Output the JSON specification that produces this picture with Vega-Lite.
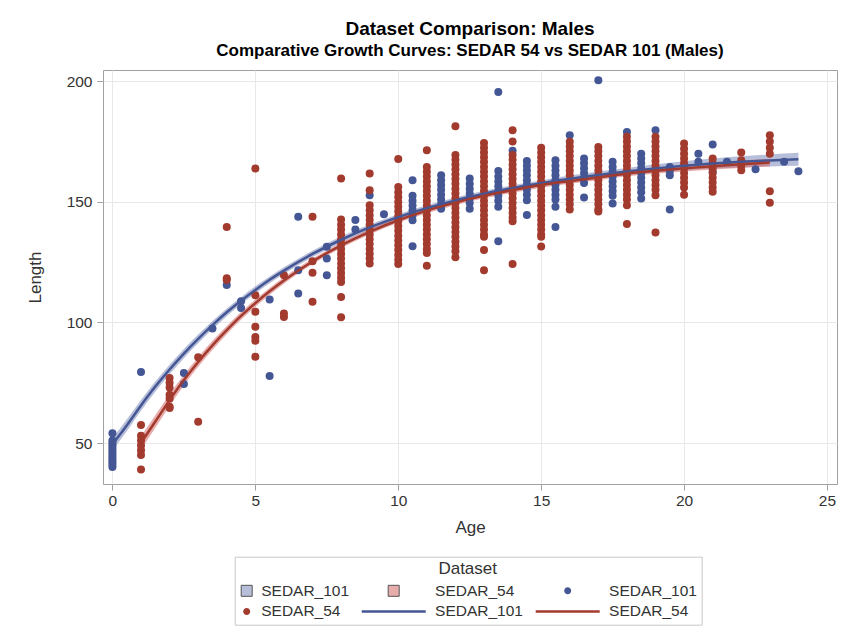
{
"$schema": "https://vega.github.io/schema/vega-lite/v6.json",
"width": 734, "height": 414,
"autosize": "none",
"padding": {"left": 103, "top": 70, "right": 6, "bottom": 151},
"background": "white",
"config": {
  "font": "Liberation Sans",
  "view": {"stroke": "#a0a0a0", "strokeWidth": 1},
  "axis": {"gridColor": "#e8e8e8", "gridWidth": 1, "domain": false, "tickColor": "#a0a0a0", "tickSize": 6,
           "labelFontSize": 15.5, "labelColor": "#333333", "titleFontSize": 17, "titleFontWeight": "normal", "titleColor": "#333333",
           "labelFont": "Liberation Sans", "titleFont": "Liberation Sans"}
},
"title": {"text": "Dataset Comparison: Males", "subtitle": "Comparative Growth Curves: SEDAR 54 vs SEDAR 101 (Males)",
  "fontSize": 19, "fontWeight": "bold", "subtitleFontSize": 17, "subtitleFontWeight": "bold", "color": "#000000", "subtitleColor": "#000000",
  "anchor": "middle", "frame": "group", "offset": 11, "subtitlePadding": 4, "font": "Liberation Sans", "subtitleFont": "Liberation Sans"},
"datasets": {
  "fit": [
    {"Dataset":"SEDAR_101","Age":0,"Length":49.5,"Lower":47,"Upper":52},
    {"Dataset":"SEDAR_101","Age":0.5,"Length":57.3,"Lower":54.9,"Upper":59.7},
    {"Dataset":"SEDAR_101","Age":1,"Length":65.6,"Lower":63.4,"Upper":67.8},
    {"Dataset":"SEDAR_101","Age":1.5,"Length":73.4,"Lower":71.3,"Upper":75.5},
    {"Dataset":"SEDAR_101","Age":2,"Length":80.5,"Lower":78.5,"Upper":82.5},
    {"Dataset":"SEDAR_101","Age":2.5,"Length":87.1,"Lower":85.2,"Upper":89},
    {"Dataset":"SEDAR_101","Age":3,"Length":93.2,"Lower":91.4,"Upper":95},
    {"Dataset":"SEDAR_101","Age":3.5,"Length":98.9,"Lower":97.2,"Upper":100.6},
    {"Dataset":"SEDAR_101","Age":4,"Length":104.2,"Lower":102.6,"Upper":105.8},
    {"Dataset":"SEDAR_101","Age":4.5,"Length":109,"Lower":107.5,"Upper":110.5},
    {"Dataset":"SEDAR_101","Age":5,"Length":113.5,"Lower":112,"Upper":115},
    {"Dataset":"SEDAR_101","Age":5.5,"Length":117.7,"Lower":116.3,"Upper":119.1},
    {"Dataset":"SEDAR_101","Age":6,"Length":121.5,"Lower":120.1,"Upper":122.9},
    {"Dataset":"SEDAR_101","Age":7,"Length":128.4,"Lower":127.1,"Upper":129.7},
    {"Dataset":"SEDAR_101","Age":8,"Length":134.3,"Lower":133,"Upper":135.6},
    {"Dataset":"SEDAR_101","Age":9,"Length":139.4,"Lower":138.2,"Upper":140.6},
    {"Dataset":"SEDAR_101","Age":10,"Length":143.7,"Lower":142.5,"Upper":144.9},
    {"Dataset":"SEDAR_101","Age":11,"Length":147.4,"Lower":146.2,"Upper":148.6},
    {"Dataset":"SEDAR_101","Age":12,"Length":150.6,"Lower":149.4,"Upper":151.8},
    {"Dataset":"SEDAR_101","Age":13,"Length":153.4,"Lower":152.2,"Upper":154.6},
    {"Dataset":"SEDAR_101","Age":14,"Length":155.7,"Lower":154.5,"Upper":156.9},
    {"Dataset":"SEDAR_101","Age":15,"Length":157.7,"Lower":156.5,"Upper":158.9},
    {"Dataset":"SEDAR_101","Age":16,"Length":159.6,"Lower":158.3,"Upper":160.9},
    {"Dataset":"SEDAR_101","Age":17,"Length":161.2,"Lower":159.8,"Upper":162.6},
    {"Dataset":"SEDAR_101","Age":18,"Length":162.6,"Lower":161.1,"Upper":164.1},
    {"Dataset":"SEDAR_101","Age":19,"Length":163.9,"Lower":162.2,"Upper":165.6},
    {"Dataset":"SEDAR_101","Age":20,"Length":165,"Lower":163.1,"Upper":166.9},
    {"Dataset":"SEDAR_101","Age":21,"Length":165.9,"Lower":163.8,"Upper":168},
    {"Dataset":"SEDAR_101","Age":22,"Length":166.6,"Lower":164.3,"Upper":168.9},
    {"Dataset":"SEDAR_101","Age":23,"Length":167.2,"Lower":164.7,"Upper":169.7},
    {"Dataset":"SEDAR_101","Age":24,"Length":167.7,"Lower":165,"Upper":170.4},
    {"Dataset":"SEDAR_54","Age":1,"Length":50,"Lower":47.2,"Upper":52.8},
    {"Dataset":"SEDAR_54","Age":1.5,"Length":58.9,"Lower":56.3,"Upper":61.5},
    {"Dataset":"SEDAR_54","Age":2,"Length":67.8,"Lower":65.4,"Upper":70.2},
    {"Dataset":"SEDAR_54","Age":2.5,"Length":76.1,"Lower":73.9,"Upper":78.3},
    {"Dataset":"SEDAR_54","Age":3,"Length":83.6,"Lower":81.6,"Upper":85.6},
    {"Dataset":"SEDAR_54","Age":3.5,"Length":90.5,"Lower":88.6,"Upper":92.4},
    {"Dataset":"SEDAR_54","Age":4,"Length":96.8,"Lower":95.1,"Upper":98.5},
    {"Dataset":"SEDAR_54","Age":4.5,"Length":102.7,"Lower":101.1,"Upper":104.3},
    {"Dataset":"SEDAR_54","Age":5,"Length":108,"Lower":106.5,"Upper":109.5},
    {"Dataset":"SEDAR_54","Age":5.5,"Length":112.9,"Lower":111.5,"Upper":114.3},
    {"Dataset":"SEDAR_54","Age":6,"Length":117.4,"Lower":116.1,"Upper":118.7},
    {"Dataset":"SEDAR_54","Age":7,"Length":125.3,"Lower":124.1,"Upper":126.5},
    {"Dataset":"SEDAR_54","Age":8,"Length":132,"Lower":130.9,"Upper":133.1},
    {"Dataset":"SEDAR_54","Age":9,"Length":137.6,"Lower":136.5,"Upper":138.7},
    {"Dataset":"SEDAR_54","Age":10,"Length":142.4,"Lower":141.3,"Upper":143.5},
    {"Dataset":"SEDAR_54","Age":11,"Length":146.4,"Lower":145.3,"Upper":147.5},
    {"Dataset":"SEDAR_54","Age":12,"Length":149.7,"Lower":148.6,"Upper":150.8},
    {"Dataset":"SEDAR_54","Age":13,"Length":152.6,"Lower":151.5,"Upper":153.7},
    {"Dataset":"SEDAR_54","Age":14,"Length":154.9,"Lower":153.8,"Upper":156},
    {"Dataset":"SEDAR_54","Age":15,"Length":157,"Lower":155.9,"Upper":158.1},
    {"Dataset":"SEDAR_54","Age":16,"Length":158.6,"Lower":157.5,"Upper":159.7},
    {"Dataset":"SEDAR_54","Age":17,"Length":160.1,"Lower":159,"Upper":161.2},
    {"Dataset":"SEDAR_54","Age":18,"Length":161.8,"Lower":160.6,"Upper":163},
    {"Dataset":"SEDAR_54","Age":19,"Length":162.9,"Lower":161.7,"Upper":164.1},
    {"Dataset":"SEDAR_54","Age":20,"Length":163.9,"Lower":162.6,"Upper":165.2},
    {"Dataset":"SEDAR_54","Age":21,"Length":164.8,"Lower":163.4,"Upper":166.2},
    {"Dataset":"SEDAR_54","Age":22,"Length":165.6,"Lower":164.1,"Upper":167.1},
    {"Dataset":"SEDAR_54","Age":23,"Length":166.3,"Lower":164.7,"Upper":167.9}
  ],
  "pts": [
    {"Dataset":"SEDAR_101","Age":0,"Length":54},{"Dataset":"SEDAR_101","Age":0,"Length":51},{"Dataset":"SEDAR_101","Age":0,"Length":50},{"Dataset":"SEDAR_101","Age":0,"Length":49},{"Dataset":"SEDAR_101","Age":0,"Length":48},{"Dataset":"SEDAR_101","Age":0,"Length":47},{"Dataset":"SEDAR_101","Age":0,"Length":46},{"Dataset":"SEDAR_101","Age":0,"Length":45},{"Dataset":"SEDAR_101","Age":0,"Length":44},{"Dataset":"SEDAR_101","Age":0,"Length":43},{"Dataset":"SEDAR_101","Age":0,"Length":42},{"Dataset":"SEDAR_101","Age":0,"Length":41},{"Dataset":"SEDAR_101","Age":0,"Length":40},
    {"Dataset":"SEDAR_101","Age":1,"Length":79.5},
    {"Dataset":"SEDAR_101","Age":2.5,"Length":79},{"Dataset":"SEDAR_101","Age":2.5,"Length":74.5},
    {"Dataset":"SEDAR_101","Age":3.5,"Length":97.5},
    {"Dataset":"SEDAR_101","Age":4,"Length":115.5},
    {"Dataset":"SEDAR_101","Age":4.5,"Length":108.8},{"Dataset":"SEDAR_101","Age":4.5,"Length":106},
    {"Dataset":"SEDAR_101","Age":5.5,"Length":109.5},{"Dataset":"SEDAR_101","Age":5.5,"Length":77.8},
    {"Dataset":"SEDAR_101","Age":6.5,"Length":143.8},{"Dataset":"SEDAR_101","Age":6.5,"Length":121.7},{"Dataset":"SEDAR_101","Age":6.5,"Length":112},
    {"Dataset":"SEDAR_101","Age":7.5,"Length":131.4},{"Dataset":"SEDAR_101","Age":7.5,"Length":126.5},{"Dataset":"SEDAR_101","Age":7.5,"Length":119.6},
    {"Dataset":"SEDAR_101","Age":8.5,"Length":142.5},{"Dataset":"SEDAR_101","Age":8.5,"Length":138.5},
    {"Dataset":"SEDAR_101","Age":9,"Length":152.8},
    {"Dataset":"SEDAR_101","Age":9.5,"Length":144.9},
    {"Dataset":"SEDAR_101","Age":10.5,"Length":159},{"Dataset":"SEDAR_101","Age":10.5,"Length":152.5},{"Dataset":"SEDAR_101","Age":10.5,"Length":150.5},{"Dataset":"SEDAR_101","Age":10.5,"Length":148.5},{"Dataset":"SEDAR_101","Age":10.5,"Length":146.5},{"Dataset":"SEDAR_101","Age":10.5,"Length":144.5},{"Dataset":"SEDAR_101","Age":10.5,"Length":142.4},{"Dataset":"SEDAR_101","Age":10.5,"Length":131.6},
    {"Dataset":"SEDAR_101","Age":11.5,"Length":161},{"Dataset":"SEDAR_101","Age":11.5,"Length":159},{"Dataset":"SEDAR_101","Age":11.5,"Length":157},{"Dataset":"SEDAR_101","Age":11.5,"Length":155},{"Dataset":"SEDAR_101","Age":11.5,"Length":153},{"Dataset":"SEDAR_101","Age":11.5,"Length":151},{"Dataset":"SEDAR_101","Age":11.5,"Length":149},{"Dataset":"SEDAR_101","Age":11.5,"Length":147.2},
    {"Dataset":"SEDAR_101","Age":12.5,"Length":159.7},{"Dataset":"SEDAR_101","Age":12.5,"Length":157.5},{"Dataset":"SEDAR_101","Age":12.5,"Length":155.5},{"Dataset":"SEDAR_101","Age":12.5,"Length":153.5},{"Dataset":"SEDAR_101","Age":12.5,"Length":151.5},{"Dataset":"SEDAR_101","Age":12.5,"Length":149.5},{"Dataset":"SEDAR_101","Age":12.5,"Length":147.2},
    {"Dataset":"SEDAR_101","Age":13.5,"Length":195.6},{"Dataset":"SEDAR_101","Age":13.5,"Length":162.8},{"Dataset":"SEDAR_101","Age":13.5,"Length":160.5},{"Dataset":"SEDAR_101","Age":13.5,"Length":158.5},{"Dataset":"SEDAR_101","Age":13.5,"Length":156.5},{"Dataset":"SEDAR_101","Age":13.5,"Length":154.5},{"Dataset":"SEDAR_101","Age":13.5,"Length":152.5},{"Dataset":"SEDAR_101","Age":13.5,"Length":150.5},{"Dataset":"SEDAR_101","Age":13.5,"Length":148},{"Dataset":"SEDAR_101","Age":13.5,"Length":133.7},
    {"Dataset":"SEDAR_101","Age":14,"Length":171.2},
    {"Dataset":"SEDAR_101","Age":14.5,"Length":167},{"Dataset":"SEDAR_101","Age":14.5,"Length":165},{"Dataset":"SEDAR_101","Age":14.5,"Length":163},{"Dataset":"SEDAR_101","Age":14.5,"Length":161},{"Dataset":"SEDAR_101","Age":14.5,"Length":159},{"Dataset":"SEDAR_101","Age":14.5,"Length":157},{"Dataset":"SEDAR_101","Age":14.5,"Length":155},{"Dataset":"SEDAR_101","Age":14.5,"Length":153},{"Dataset":"SEDAR_101","Age":14.5,"Length":150.7},{"Dataset":"SEDAR_101","Age":14.5,"Length":144.6},
    {"Dataset":"SEDAR_101","Age":15.5,"Length":167.3},{"Dataset":"SEDAR_101","Age":15.5,"Length":165},{"Dataset":"SEDAR_101","Age":15.5,"Length":163},{"Dataset":"SEDAR_101","Age":15.5,"Length":161},{"Dataset":"SEDAR_101","Age":15.5,"Length":159},{"Dataset":"SEDAR_101","Age":15.5,"Length":157},{"Dataset":"SEDAR_101","Age":15.5,"Length":155},{"Dataset":"SEDAR_101","Age":15.5,"Length":153},{"Dataset":"SEDAR_101","Age":15.5,"Length":151},{"Dataset":"SEDAR_101","Age":15.5,"Length":148},{"Dataset":"SEDAR_101","Age":15.5,"Length":139.6},
    {"Dataset":"SEDAR_101","Age":16,"Length":177.6},
    {"Dataset":"SEDAR_101","Age":16.5,"Length":168},{"Dataset":"SEDAR_101","Age":16.5,"Length":166},{"Dataset":"SEDAR_101","Age":16.5,"Length":164},{"Dataset":"SEDAR_101","Age":16.5,"Length":162},{"Dataset":"SEDAR_101","Age":16.5,"Length":160},{"Dataset":"SEDAR_101","Age":16.5,"Length":157.8},{"Dataset":"SEDAR_101","Age":16.5,"Length":151.8},
    {"Dataset":"SEDAR_101","Age":17,"Length":200.4},
    {"Dataset":"SEDAR_101","Age":17.5,"Length":166.6},{"Dataset":"SEDAR_101","Age":17.5,"Length":164.5},{"Dataset":"SEDAR_101","Age":17.5,"Length":162.5},{"Dataset":"SEDAR_101","Age":17.5,"Length":160.5},{"Dataset":"SEDAR_101","Age":17.5,"Length":158.5},{"Dataset":"SEDAR_101","Age":17.5,"Length":156.5},{"Dataset":"SEDAR_101","Age":17.5,"Length":154.5},{"Dataset":"SEDAR_101","Age":17.5,"Length":152.5},{"Dataset":"SEDAR_101","Age":17.5,"Length":149.3},
    {"Dataset":"SEDAR_101","Age":18,"Length":179},
    {"Dataset":"SEDAR_101","Age":18.5,"Length":170},{"Dataset":"SEDAR_101","Age":18.5,"Length":168},{"Dataset":"SEDAR_101","Age":18.5,"Length":166},{"Dataset":"SEDAR_101","Age":18.5,"Length":164},{"Dataset":"SEDAR_101","Age":18.5,"Length":162},{"Dataset":"SEDAR_101","Age":18.5,"Length":160},{"Dataset":"SEDAR_101","Age":18.5,"Length":158},{"Dataset":"SEDAR_101","Age":18.5,"Length":156},{"Dataset":"SEDAR_101","Age":18.5,"Length":154},{"Dataset":"SEDAR_101","Age":18.5,"Length":151.4},
    {"Dataset":"SEDAR_101","Age":19,"Length":179.7},
    {"Dataset":"SEDAR_101","Age":19.5,"Length":164.5},{"Dataset":"SEDAR_101","Age":19.5,"Length":162.8},{"Dataset":"SEDAR_101","Age":19.5,"Length":161},{"Dataset":"SEDAR_101","Age":19.5,"Length":146.8},
    {"Dataset":"SEDAR_101","Age":20.5,"Length":170},{"Dataset":"SEDAR_101","Age":20.5,"Length":166.6},
    {"Dataset":"SEDAR_101","Age":21,"Length":173.8},{"Dataset":"SEDAR_101","Age":21,"Length":162.5},
    {"Dataset":"SEDAR_101","Age":21.5,"Length":166.6},
    {"Dataset":"SEDAR_101","Age":22.5,"Length":163.5},
    {"Dataset":"SEDAR_101","Age":23.5,"Length":166.6},
    {"Dataset":"SEDAR_101","Age":24,"Length":162.7},
    {"Dataset":"SEDAR_54","Age":1,"Length":57.5},{"Dataset":"SEDAR_54","Age":1,"Length":53},{"Dataset":"SEDAR_54","Age":1,"Length":51},{"Dataset":"SEDAR_54","Age":1,"Length":49},{"Dataset":"SEDAR_54","Age":1,"Length":47},{"Dataset":"SEDAR_54","Age":1,"Length":45},{"Dataset":"SEDAR_54","Age":1,"Length":39},
    {"Dataset":"SEDAR_54","Age":2,"Length":77},{"Dataset":"SEDAR_54","Age":2,"Length":75},{"Dataset":"SEDAR_54","Age":2,"Length":73},{"Dataset":"SEDAR_54","Age":2,"Length":70},{"Dataset":"SEDAR_54","Age":2,"Length":68.5},{"Dataset":"SEDAR_54","Age":2,"Length":65},{"Dataset":"SEDAR_54","Age":2,"Length":64.5},
    {"Dataset":"SEDAR_54","Age":3,"Length":85.6},{"Dataset":"SEDAR_54","Age":3,"Length":58.8},
    {"Dataset":"SEDAR_54","Age":4,"Length":139.6},{"Dataset":"SEDAR_54","Age":4,"Length":118.3},{"Dataset":"SEDAR_54","Age":4,"Length":117.6},
    {"Dataset":"SEDAR_54","Age":5,"Length":163.8},{"Dataset":"SEDAR_54","Age":5,"Length":111.3},{"Dataset":"SEDAR_54","Age":5,"Length":104.4},{"Dataset":"SEDAR_54","Age":5,"Length":98.2},{"Dataset":"SEDAR_54","Age":5,"Length":94},{"Dataset":"SEDAR_54","Age":5,"Length":92.4},{"Dataset":"SEDAR_54","Age":5,"Length":85.8},
    {"Dataset":"SEDAR_54","Age":6,"Length":119.6},{"Dataset":"SEDAR_54","Age":6,"Length":103.7},{"Dataset":"SEDAR_54","Age":6,"Length":102.3},
    {"Dataset":"SEDAR_54","Age":7,"Length":143.8},{"Dataset":"SEDAR_54","Age":7,"Length":125.4},{"Dataset":"SEDAR_54","Age":7,"Length":120.6},{"Dataset":"SEDAR_54","Age":7,"Length":108.6},
    {"Dataset":"SEDAR_54","Age":8,"Length":159.7},{"Dataset":"SEDAR_54","Age":8,"Length":142.7},{"Dataset":"SEDAR_54","Age":8,"Length":140.5},{"Dataset":"SEDAR_54","Age":8,"Length":138.5},{"Dataset":"SEDAR_54","Age":8,"Length":136.5},{"Dataset":"SEDAR_54","Age":8,"Length":134.5},{"Dataset":"SEDAR_54","Age":8,"Length":132.5},{"Dataset":"SEDAR_54","Age":8,"Length":130.5},{"Dataset":"SEDAR_54","Age":8,"Length":128.5},{"Dataset":"SEDAR_54","Age":8,"Length":126.5},{"Dataset":"SEDAR_54","Age":8,"Length":124.5},{"Dataset":"SEDAR_54","Age":8,"Length":122.5},{"Dataset":"SEDAR_54","Age":8,"Length":120.5},{"Dataset":"SEDAR_54","Age":8,"Length":118.5},{"Dataset":"SEDAR_54","Age":8,"Length":116.8},{"Dataset":"SEDAR_54","Age":8,"Length":110.6},{"Dataset":"SEDAR_54","Age":8,"Length":102.2},
    {"Dataset":"SEDAR_54","Age":9,"Length":161.8},{"Dataset":"SEDAR_54","Age":9,"Length":154.8},{"Dataset":"SEDAR_54","Age":9,"Length":148.6},{"Dataset":"SEDAR_54","Age":9,"Length":146.5},{"Dataset":"SEDAR_54","Age":9,"Length":144.5},{"Dataset":"SEDAR_54","Age":9,"Length":142.5},{"Dataset":"SEDAR_54","Age":9,"Length":140.5},{"Dataset":"SEDAR_54","Age":9,"Length":138.5},{"Dataset":"SEDAR_54","Age":9,"Length":136.5},{"Dataset":"SEDAR_54","Age":9,"Length":134.5},{"Dataset":"SEDAR_54","Age":9,"Length":132.5},{"Dataset":"SEDAR_54","Age":9,"Length":130.5},{"Dataset":"SEDAR_54","Age":9,"Length":128.5},{"Dataset":"SEDAR_54","Age":9,"Length":126.5},{"Dataset":"SEDAR_54","Age":9,"Length":124.5},
    {"Dataset":"SEDAR_54","Age":10,"Length":167.8},{"Dataset":"SEDAR_54","Age":10,"Length":156.2},{"Dataset":"SEDAR_54","Age":10,"Length":154},{"Dataset":"SEDAR_54","Age":10,"Length":152},{"Dataset":"SEDAR_54","Age":10,"Length":150},{"Dataset":"SEDAR_54","Age":10,"Length":148},{"Dataset":"SEDAR_54","Age":10,"Length":146},{"Dataset":"SEDAR_54","Age":10,"Length":144},{"Dataset":"SEDAR_54","Age":10,"Length":142},{"Dataset":"SEDAR_54","Age":10,"Length":140},{"Dataset":"SEDAR_54","Age":10,"Length":138},{"Dataset":"SEDAR_54","Age":10,"Length":136},{"Dataset":"SEDAR_54","Age":10,"Length":134},{"Dataset":"SEDAR_54","Age":10,"Length":132},{"Dataset":"SEDAR_54","Age":10,"Length":130},{"Dataset":"SEDAR_54","Age":10,"Length":128},{"Dataset":"SEDAR_54","Age":10,"Length":126},{"Dataset":"SEDAR_54","Age":10,"Length":124.2},
    {"Dataset":"SEDAR_54","Age":11,"Length":171.4},{"Dataset":"SEDAR_54","Age":11,"Length":164.5},{"Dataset":"SEDAR_54","Age":11,"Length":162.5},{"Dataset":"SEDAR_54","Age":11,"Length":160.5},{"Dataset":"SEDAR_54","Age":11,"Length":158.5},{"Dataset":"SEDAR_54","Age":11,"Length":156.5},{"Dataset":"SEDAR_54","Age":11,"Length":154.5},{"Dataset":"SEDAR_54","Age":11,"Length":152.5},{"Dataset":"SEDAR_54","Age":11,"Length":150.5},{"Dataset":"SEDAR_54","Age":11,"Length":148.5},{"Dataset":"SEDAR_54","Age":11,"Length":146.5},{"Dataset":"SEDAR_54","Age":11,"Length":144.5},{"Dataset":"SEDAR_54","Age":11,"Length":142.5},{"Dataset":"SEDAR_54","Age":11,"Length":140.5},{"Dataset":"SEDAR_54","Age":11,"Length":138.5},{"Dataset":"SEDAR_54","Age":11,"Length":136.5},{"Dataset":"SEDAR_54","Age":11,"Length":134.5},{"Dataset":"SEDAR_54","Age":11,"Length":132.5},{"Dataset":"SEDAR_54","Age":11,"Length":130.5},{"Dataset":"SEDAR_54","Age":11,"Length":128.8},{"Dataset":"SEDAR_54","Age":11,"Length":123.5},
    {"Dataset":"SEDAR_54","Age":12,"Length":181.4},{"Dataset":"SEDAR_54","Age":12,"Length":169.4},{"Dataset":"SEDAR_54","Age":12,"Length":167.5},{"Dataset":"SEDAR_54","Age":12,"Length":165.5},{"Dataset":"SEDAR_54","Age":12,"Length":163.5},{"Dataset":"SEDAR_54","Age":12,"Length":161.5},{"Dataset":"SEDAR_54","Age":12,"Length":159.5},{"Dataset":"SEDAR_54","Age":12,"Length":157.5},{"Dataset":"SEDAR_54","Age":12,"Length":155.5},{"Dataset":"SEDAR_54","Age":12,"Length":153.5},{"Dataset":"SEDAR_54","Age":12,"Length":151.5},{"Dataset":"SEDAR_54","Age":12,"Length":149.5},{"Dataset":"SEDAR_54","Age":12,"Length":147.5},{"Dataset":"SEDAR_54","Age":12,"Length":145.5},{"Dataset":"SEDAR_54","Age":12,"Length":143.5},{"Dataset":"SEDAR_54","Age":12,"Length":141.5},{"Dataset":"SEDAR_54","Age":12,"Length":139.5},{"Dataset":"SEDAR_54","Age":12,"Length":137.5},{"Dataset":"SEDAR_54","Age":12,"Length":135.5},{"Dataset":"SEDAR_54","Age":12,"Length":133.5},{"Dataset":"SEDAR_54","Age":12,"Length":131.5},{"Dataset":"SEDAR_54","Age":12,"Length":129.5},{"Dataset":"SEDAR_54","Age":12,"Length":127},
    {"Dataset":"SEDAR_54","Age":13,"Length":174.4},{"Dataset":"SEDAR_54","Age":13,"Length":172.5},{"Dataset":"SEDAR_54","Age":13,"Length":170.5},{"Dataset":"SEDAR_54","Age":13,"Length":168.5},{"Dataset":"SEDAR_54","Age":13,"Length":166.5},{"Dataset":"SEDAR_54","Age":13,"Length":164.5},{"Dataset":"SEDAR_54","Age":13,"Length":162.5},{"Dataset":"SEDAR_54","Age":13,"Length":160.5},{"Dataset":"SEDAR_54","Age":13,"Length":158.5},{"Dataset":"SEDAR_54","Age":13,"Length":156.5},{"Dataset":"SEDAR_54","Age":13,"Length":154.5},{"Dataset":"SEDAR_54","Age":13,"Length":152.5},{"Dataset":"SEDAR_54","Age":13,"Length":150.5},{"Dataset":"SEDAR_54","Age":13,"Length":148.5},{"Dataset":"SEDAR_54","Age":13,"Length":146.5},{"Dataset":"SEDAR_54","Age":13,"Length":144.5},{"Dataset":"SEDAR_54","Age":13,"Length":142.5},{"Dataset":"SEDAR_54","Age":13,"Length":140.5},{"Dataset":"SEDAR_54","Age":13,"Length":138.5},{"Dataset":"SEDAR_54","Age":13,"Length":136.5},{"Dataset":"SEDAR_54","Age":13,"Length":135.5},{"Dataset":"SEDAR_54","Age":13,"Length":130},{"Dataset":"SEDAR_54","Age":13,"Length":121.6},
    {"Dataset":"SEDAR_54","Age":14,"Length":179.7},{"Dataset":"SEDAR_54","Age":14,"Length":175},{"Dataset":"SEDAR_54","Age":14,"Length":169.4},{"Dataset":"SEDAR_54","Age":14,"Length":167.5},{"Dataset":"SEDAR_54","Age":14,"Length":165.5},{"Dataset":"SEDAR_54","Age":14,"Length":163.5},{"Dataset":"SEDAR_54","Age":14,"Length":161.5},{"Dataset":"SEDAR_54","Age":14,"Length":159.5},{"Dataset":"SEDAR_54","Age":14,"Length":157.5},{"Dataset":"SEDAR_54","Age":14,"Length":155.5},{"Dataset":"SEDAR_54","Age":14,"Length":153.5},{"Dataset":"SEDAR_54","Age":14,"Length":151.5},{"Dataset":"SEDAR_54","Age":14,"Length":149.5},{"Dataset":"SEDAR_54","Age":14,"Length":147.5},{"Dataset":"SEDAR_54","Age":14,"Length":145.5},{"Dataset":"SEDAR_54","Age":14,"Length":143.5},{"Dataset":"SEDAR_54","Age":14,"Length":142},{"Dataset":"SEDAR_54","Age":14,"Length":124.2},
    {"Dataset":"SEDAR_54","Age":15,"Length":172.5},{"Dataset":"SEDAR_54","Age":15,"Length":170.5},{"Dataset":"SEDAR_54","Age":15,"Length":168.5},{"Dataset":"SEDAR_54","Age":15,"Length":166.5},{"Dataset":"SEDAR_54","Age":15,"Length":164.5},{"Dataset":"SEDAR_54","Age":15,"Length":162.5},{"Dataset":"SEDAR_54","Age":15,"Length":160.5},{"Dataset":"SEDAR_54","Age":15,"Length":158.5},{"Dataset":"SEDAR_54","Age":15,"Length":156.5},{"Dataset":"SEDAR_54","Age":15,"Length":154.5},{"Dataset":"SEDAR_54","Age":15,"Length":152.5},{"Dataset":"SEDAR_54","Age":15,"Length":150.5},{"Dataset":"SEDAR_54","Age":15,"Length":148.5},{"Dataset":"SEDAR_54","Age":15,"Length":146.5},{"Dataset":"SEDAR_54","Age":15,"Length":144.5},{"Dataset":"SEDAR_54","Age":15,"Length":142.5},{"Dataset":"SEDAR_54","Age":15,"Length":140.5},{"Dataset":"SEDAR_54","Age":15,"Length":138.5},{"Dataset":"SEDAR_54","Age":15,"Length":136.5},{"Dataset":"SEDAR_54","Age":15,"Length":135.5},{"Dataset":"SEDAR_54","Age":15,"Length":131.5},
    {"Dataset":"SEDAR_54","Age":16,"Length":174.9},{"Dataset":"SEDAR_54","Age":16,"Length":173},{"Dataset":"SEDAR_54","Age":16,"Length":171},{"Dataset":"SEDAR_54","Age":16,"Length":169},{"Dataset":"SEDAR_54","Age":16,"Length":167},{"Dataset":"SEDAR_54","Age":16,"Length":165},{"Dataset":"SEDAR_54","Age":16,"Length":163},{"Dataset":"SEDAR_54","Age":16,"Length":161},{"Dataset":"SEDAR_54","Age":16,"Length":159},{"Dataset":"SEDAR_54","Age":16,"Length":157},{"Dataset":"SEDAR_54","Age":16,"Length":155},{"Dataset":"SEDAR_54","Age":16,"Length":153},{"Dataset":"SEDAR_54","Age":16,"Length":151},{"Dataset":"SEDAR_54","Age":16,"Length":149},{"Dataset":"SEDAR_54","Age":16,"Length":146.8},
    {"Dataset":"SEDAR_54","Age":17,"Length":172.8},{"Dataset":"SEDAR_54","Age":17,"Length":171},{"Dataset":"SEDAR_54","Age":17,"Length":169},{"Dataset":"SEDAR_54","Age":17,"Length":167},{"Dataset":"SEDAR_54","Age":17,"Length":165},{"Dataset":"SEDAR_54","Age":17,"Length":163},{"Dataset":"SEDAR_54","Age":17,"Length":161},{"Dataset":"SEDAR_54","Age":17,"Length":159},{"Dataset":"SEDAR_54","Age":17,"Length":157},{"Dataset":"SEDAR_54","Age":17,"Length":155},{"Dataset":"SEDAR_54","Age":17,"Length":153},{"Dataset":"SEDAR_54","Age":17,"Length":151},{"Dataset":"SEDAR_54","Age":17,"Length":149},{"Dataset":"SEDAR_54","Age":17,"Length":147},{"Dataset":"SEDAR_54","Age":17,"Length":146},
    {"Dataset":"SEDAR_54","Age":18,"Length":177},{"Dataset":"SEDAR_54","Age":18,"Length":175},{"Dataset":"SEDAR_54","Age":18,"Length":173},{"Dataset":"SEDAR_54","Age":18,"Length":171},{"Dataset":"SEDAR_54","Age":18,"Length":169},{"Dataset":"SEDAR_54","Age":18,"Length":167},{"Dataset":"SEDAR_54","Age":18,"Length":165},{"Dataset":"SEDAR_54","Age":18,"Length":163},{"Dataset":"SEDAR_54","Age":18,"Length":161},{"Dataset":"SEDAR_54","Age":18,"Length":159},{"Dataset":"SEDAR_54","Age":18,"Length":157},{"Dataset":"SEDAR_54","Age":18,"Length":155},{"Dataset":"SEDAR_54","Age":18,"Length":153},{"Dataset":"SEDAR_54","Age":18,"Length":151},{"Dataset":"SEDAR_54","Age":18,"Length":148.6},{"Dataset":"SEDAR_54","Age":18,"Length":140.8},
    {"Dataset":"SEDAR_54","Age":19,"Length":177},{"Dataset":"SEDAR_54","Age":19,"Length":175},{"Dataset":"SEDAR_54","Age":19,"Length":173},{"Dataset":"SEDAR_54","Age":19,"Length":171},{"Dataset":"SEDAR_54","Age":19,"Length":169},{"Dataset":"SEDAR_54","Age":19,"Length":167},{"Dataset":"SEDAR_54","Age":19,"Length":165},{"Dataset":"SEDAR_54","Age":19,"Length":163},{"Dataset":"SEDAR_54","Age":19,"Length":161},{"Dataset":"SEDAR_54","Age":19,"Length":159},{"Dataset":"SEDAR_54","Age":19,"Length":157},{"Dataset":"SEDAR_54","Age":19,"Length":155},{"Dataset":"SEDAR_54","Age":19,"Length":152.8},{"Dataset":"SEDAR_54","Age":19,"Length":137.3},
    {"Dataset":"SEDAR_54","Age":20,"Length":174.2},{"Dataset":"SEDAR_54","Age":20,"Length":172},{"Dataset":"SEDAR_54","Age":20,"Length":170},{"Dataset":"SEDAR_54","Age":20,"Length":168},{"Dataset":"SEDAR_54","Age":20,"Length":166},{"Dataset":"SEDAR_54","Age":20,"Length":164},{"Dataset":"SEDAR_54","Age":20,"Length":162},{"Dataset":"SEDAR_54","Age":20,"Length":160},{"Dataset":"SEDAR_54","Age":20,"Length":158},{"Dataset":"SEDAR_54","Age":20,"Length":156},{"Dataset":"SEDAR_54","Age":20,"Length":153},
    {"Dataset":"SEDAR_54","Age":21,"Length":168},{"Dataset":"SEDAR_54","Age":21,"Length":166},{"Dataset":"SEDAR_54","Age":21,"Length":164},{"Dataset":"SEDAR_54","Age":21,"Length":162},{"Dataset":"SEDAR_54","Age":21,"Length":160},{"Dataset":"SEDAR_54","Age":21,"Length":158},{"Dataset":"SEDAR_54","Age":21,"Length":156},{"Dataset":"SEDAR_54","Age":21,"Length":154.2},
    {"Dataset":"SEDAR_54","Age":22,"Length":170.5},{"Dataset":"SEDAR_54","Age":22,"Length":167.3},{"Dataset":"SEDAR_54","Age":22,"Length":165},{"Dataset":"SEDAR_54","Age":22,"Length":163.1},
    {"Dataset":"SEDAR_54","Age":23,"Length":177.6},{"Dataset":"SEDAR_54","Age":23,"Length":175},{"Dataset":"SEDAR_54","Age":23,"Length":172.5},{"Dataset":"SEDAR_54","Age":23,"Length":170},{"Dataset":"SEDAR_54","Age":23,"Length":154.4},{"Dataset":"SEDAR_54","Age":23,"Length":149.6}
  ],
  "keys": [
    {"key": "b:SEDAR_101"}, {"key": "b:SEDAR_54"}, {"key": "c:SEDAR_101"},
    {"key": "c:SEDAR_54"}, {"key": "l:SEDAR_101"}, {"key": "l:SEDAR_54"}
  ]
},
"encoding": {
  "x": {"field": "Age", "type": "quantitative",
        "scale": {"domain": [-0.33, 25.35], "nice": false, "zero": false},
        "axis": {"title": "Age", "values": [0, 5, 10, 15, 20, 25], "labelPadding": 3, "titlePadding": 11}}
},
"resolve": {"scale": {"color": "independent"}},
"layer": [
  {
    "data": {"name": "fit"},
    "mark": {"type": "area", "interpolate": "monotone", "opacity": 0.5},
    "encoding": {
      "y": {"field": "Lower", "type": "quantitative", "scale": {"domain": [33, 204.7], "nice": false, "zero": false},
            "axis": {"title": "Length", "values": [50, 100, 150, 200], "titlePadding": 22, "labelPadding": 5}},
      "y2": {"field": "Upper"},
      "color": {"field": "Dataset", "type": "nominal", "scale": {"domain": ["SEDAR_101", "SEDAR_54"], "range": ["#6F7EB3", "#D05B5B"]}, "legend": null}
    }
  },
  {
    "data": {"name": "pts"},
    "mark": {"type": "point", "filled": true, "opacity": 1, "size": 64, "shape": "circle"},
    "encoding": {
      "y": {"field": "Length", "type": "quantitative", "scale": {"domain": [33, 204.7], "nice": false, "zero": false},
            "axis": {"title": "Length", "values": [50, 100, 150, 200], "titlePadding": 22, "labelPadding": 5}},
      "color": {"field": "Dataset", "type": "nominal", "scale": {"domain": ["SEDAR_101", "SEDAR_54"], "range": ["#445694", "#A23A2E"]}, "legend": null}
    }
  },
  {
    "data": {"name": "fit"},
    "mark": {"type": "line", "interpolate": "monotone", "strokeWidth": 2.5},
    "encoding": {
      "y": {"field": "Length", "type": "quantitative", "scale": {"domain": [33, 204.7], "nice": false, "zero": false},
            "axis": {"title": "Length", "values": [50, 100, 150, 200], "titlePadding": 22, "labelPadding": 5}},
      "color": {"field": "Dataset", "type": "nominal", "scale": {"domain": ["SEDAR_101", "SEDAR_54"], "range": ["#445694", "#A23A2E"]}, "legend": null}
    }
  },
  {
    "data": {"name": "keys"},
    "mark": {"type": "point", "filled": true, "opacity": 1},
    "encoding": {
      "y": {"field": "Length", "type": "quantitative", "scale": {"domain": [33, 204.7], "nice": false, "zero": false},
            "axis": {"title": "Length", "values": [50, 100, 150, 200], "titlePadding": 22, "labelPadding": 5}},
      "fill": {"field": "key", "type": "nominal", "title": "Dataset",
        "scale": {"domain": ["b:SEDAR_101", "b:SEDAR_54", "c:SEDAR_101", "c:SEDAR_54", "l:SEDAR_101", "l:SEDAR_54"],
                  "range": ["#b7bed9", "#e7adad", "#445694", "#A23A2E", "transparent", "transparent"]},
        "legend": {
          "orient": "none", "legendX": 131.7, "legendY": 486.7, "direction": "horizontal", "columns": 3,
          "title": "Dataset", "titleFontSize": 17, "titleFontWeight": "normal", "titleColor": "#333333", "titleAnchor": "middle", "titlePadding": 5,
          "labelFontSize": 15.5, "labelColor": "#333333", "labelExpr": "substring(datum.value, 2)",
          "symbolSize": 100, "symbolOpacity": 1, "symbolStrokeWidth": 1,
          "strokeColor": "#c8c8c8", "fillColor": "#ffffff", "padding": 4, "columnPadding": 6, "rowPadding": 4,
          "encode": {
            "symbols": {"update": {"x": {"signal": "datum.index % 3 == 0 ? 8 : 32"}, "strokeWidth": {"signal": "datum.index >= 4 ? 2.6 : (datum.index >= 2 ? 0 : 1)"}}},
            "labels": {"update": {"x": {"signal": "datum.index % 3 == 0 ? 22.5 : 73.4"}}}
          }
        }},
      "stroke": {"field": "key", "type": "nominal", "title": "Dataset",
        "scale": {"domain": ["b:SEDAR_101", "b:SEDAR_54", "c:SEDAR_101", "c:SEDAR_54", "l:SEDAR_101", "l:SEDAR_54"],
                  "range": ["#555555", "#555555", "#445694", "#A23A2E", "#445694", "#A23A2E"]}},
      "shape": {"field": "key", "type": "nominal", "title": "Dataset",
        "scale": {"domain": ["b:SEDAR_101", "b:SEDAR_54", "c:SEDAR_101", "c:SEDAR_54", "l:SEDAR_101", "l:SEDAR_54"],
                  "range": ["M-1.1,-1.1H1.1V1.1H-1.1Z", "M-1.1,-1.1H1.1V1.1H-1.1Z",
                            "M-0.7,0A0.7,0.7,0,1,0,0.7,0A0.7,0.7,0,1,0,-0.7,0Z", "M-0.7,0A0.7,0.7,0,1,0,0.7,0A0.7,0.7,0,1,0,-0.7,0Z",
                            "M-6.4,0H6.4", "M-6.4,0H6.4"]}}
    }
  }
]
}
